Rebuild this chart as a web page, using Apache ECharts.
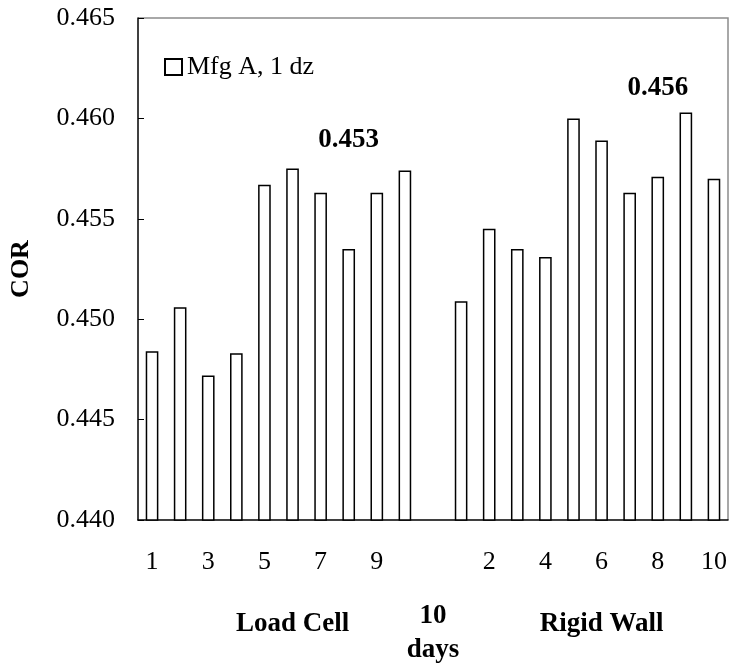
<!DOCTYPE html>
<html>
<head>
<meta charset="utf-8">
<script src="https://cdn.jsdelivr.net/npm/echarts@6/dist/echarts.min.js"></script>
<style>
  html, body { margin: 0; padding: 0; background: #fff; }
  #chart { width: 731px; height: 665px; }
</style>
</head>
<body>
<div id="chart"></div>
<script>
// Coefficient of restitution per dozen, two test methods, 10 days apart
const loadCellCOR  = [0.4484, 0.4506, 0.4472, 0.4483, 0.4567, 0.4575, 0.4563, 0.4535, 0.4563, 0.4574];
const rigidWallCOR = [0.4509, 0.4545, 0.4535, 0.4531, 0.4600, 0.4589, 0.4563, 0.4571, 0.4603, 0.4570];
const ballLabels   = ['1', '2', '3', '4', '5', '6', '7', '8', '9', '10'];
const groupNames   = ['Load Cell', '10', 'Rigid Wall'];
const yTicks       = { min: 0.440, max: 0.465, step: 0.005 };
const seriesName   = 'Mfg A, 1 dz';

// one empty slot separates the two groups
const categories = ballLabels.concat([''], ballLabels);
const values = loadCellCOR.concat([null], rigidWallCOR);

const mean = a => a.reduce((s, v) => s + v, 0) / a.length;
const loadCellMean = mean(loadCellCOR);
const rigidWallMean = mean(rigidWallCOR);

const FONT = '"Liberation Serif", "Times New Roman", serif';

const chart = echarts.init(document.getElementById('chart'), null, { renderer: 'canvas' });

chart.setOption({
  backgroundColor: '#fff',
  animation: false,
  textStyle: { fontFamily: FONT, color: '#000' },
  grid: { left: 137, right: 3, top: 18, bottom: 145, containLabel: false },
  legend: {
    data: [seriesName],
    left: 164, top: 54, padding: 0,
    itemWidth: 17, itemHeight: 16,
    icon: 'rect',
    textStyle: { fontFamily: FONT, fontSize: 26, color: '#000' }
  },
  xAxis: {
    type: 'category',
    data: categories,
    boundaryGap: true,
    axisLine: { lineStyle: { color: '#000', width: 1.5 } },
    axisTick: { show: false },
    axisLabel: { interval: 1, margin: 29, fontFamily: FONT, fontSize: 26, color: '#000' },
    splitLine: { show: false }
  },
  yAxis: {
    type: 'value',
    min: yTicks.min, max: yTicks.max, interval: yTicks.step,
    name: 'COR',
    nameLocation: 'middle',
    nameGap: 104,
    nameRotate: 90,
    nameTextStyle: { fontFamily: FONT, fontSize: 26, fontWeight: 'bold', color: '#000' },
    axisLine: { show: true, lineStyle: { color: '#000', width: 1.5 } },
    axisTick: { show: true, inside: true, length: 6, lineStyle: { color: '#000' } },
    axisLabel: { margin: 23, fontFamily: FONT, fontSize: 26, color: '#000', formatter: v => v.toFixed(3) },
    splitLine: { show: false }
  },
  series: [{
    name: seriesName,
    type: 'bar',
    data: values,
    barWidth: '45%',
    itemStyle: { color: '#fff', borderColor: '#000', borderWidth: 1.5 }
  }]
});

const gridRect = chart.getModel().getComponent('grid').coordinateSystem.getRect();
const axisY = gridRect.y + gridRect.height;
const px = (cat, val) => chart.convertToPixel({ gridIndex: 0 }, [cat, val]);

function textAt(text, x, y, size, bold) {
  return {
    type: 'text', x: x, y: y,
    style: { text: text, fill: '#000', font: (bold ? 'bold ' : '') + size + 'px ' + FONT, align: 'center', verticalAlign: 'middle' }
  };
}

// group averages written above each group
const pLC = px(6.71, 0.4589);
const pRW = px(17.55, 0.4615);
const xLC = px(4.5, yTicks.min)[0];
const xMid = px(10, yTicks.min)[0];
const xRW = px(16.2, yTicks.min)[0];

chart.setOption({
  graphic: [
    {
      type: 'polyline',
      shape: { points: [[gridRect.x, gridRect.y], [gridRect.x + gridRect.width, gridRect.y], [gridRect.x + gridRect.width, axisY]] },
      style: { stroke: '#8c8c8c', lineWidth: 1.5, fill: null }
    },
    textAt(loadCellMean.toFixed(3), pLC[0], pLC[1], 27, true),
    textAt(rigidWallMean.toFixed(3), pRW[0], pRW[1], 27, true),
    textAt(groupNames[0], xLC, axisY + 104, 27, true),
    textAt(groupNames[1], xMid, axisY + 96, 27, true),
    textAt('days', xMid, axisY + 130, 27, true),
    textAt(groupNames[2], xRW, axisY + 104, 27, true)
  ]
});
</script>
</body>
</html>
